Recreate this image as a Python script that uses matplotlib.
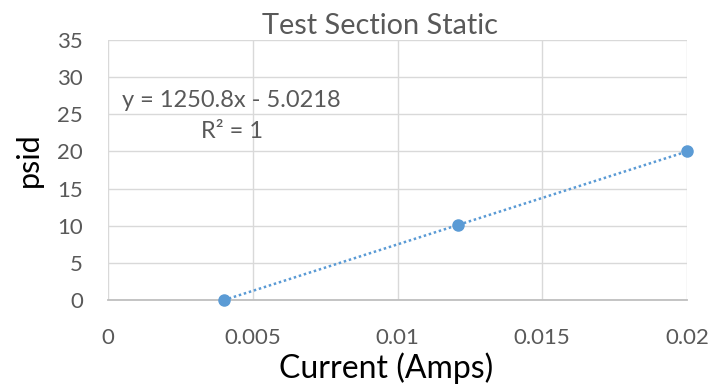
import matplotlib
matplotlib.use("Agg")
import matplotlib.pyplot as plt
import numpy as np

# Data
current = [0.004, 0.0121, 0.02]
psid = [0.0, 10.1, 20.0]
slope = 1250.8
intercept = -5.0218
eq_line = "y = 1250.8x - 5.0218"
r2_line = "R² = 1"
xticks = [0, 0.005, 0.01, 0.015, 0.02]
xticklabels = ["0", "0.005", "0.01", "0.015", "0.02"]
yticks = [0, 5, 10, 15, 20, 25, 30, 35]

plt.rcParams['font.family'] = ['Lato', 'DejaVu Sans']

fig = plt.figure(figsize=(7.13, 3.88), dpi=100)
ax = fig.add_axes([108/713, 88/388, (687-108)/713, (300-40)/388])

blue = "#5b9bd5"
grid = "#d9d9d9"
textc = "#595959"

tx = np.array([min(current), max(current)])
ax.plot(tx, slope * tx + intercept, linestyle=(0, (1, 1.1)), color=blue, lw=1.8, zorder=2)
ax.plot(current, psid, 'o', color=blue, markersize=8, zorder=3, clip_on=False)

ax.set_xlim(0, 0.02)
ax.set_ylim(0, 35)
ax.set_xticks(xticks)
ax.set_xticklabels(xticklabels)
ax.set_yticks(yticks)
ax.grid(True, color=grid, lw=1)
ax.set_axisbelow(True)
for s in ['left', 'right', 'top']:
    ax.spines[s].set_visible(False)
ax.spines['bottom'].set_color("#bfbfbf")
ax.spines['bottom'].set_linewidth(1.3)
ax.tick_params(length=0, labelsize=16, colors=textc)
ax.tick_params(axis='y', pad=18)
ax.tick_params(axis='x', pad=20)

ax.set_title("Test Section Static", fontsize=20.8, color=textc, pad=4, x=0.47)
ax.set_xlabel("Current (Amps)", fontsize=23, color="#000000")
ax.xaxis.set_label_coords((386-108)/579, -(368-300)/260, transform=ax.transAxes)
ax.xaxis.label.set_va('center')
ax.set_ylabel("psid", fontsize=22, color="#000000")
ax.yaxis.set_label_coords(-(108-29)/579, (300-160)/260, transform=ax.transAxes)
ax.yaxis.label.set_va('center')

ax.text(0.00427, 26.9, eq_line, fontsize=17, color=textc, ha='center', va='center')
ax.text(0.00427, 22.75, r2_line, fontsize=17, color=textc, ha='center', va='center')

fig.savefig("out.png", dpi=100)
